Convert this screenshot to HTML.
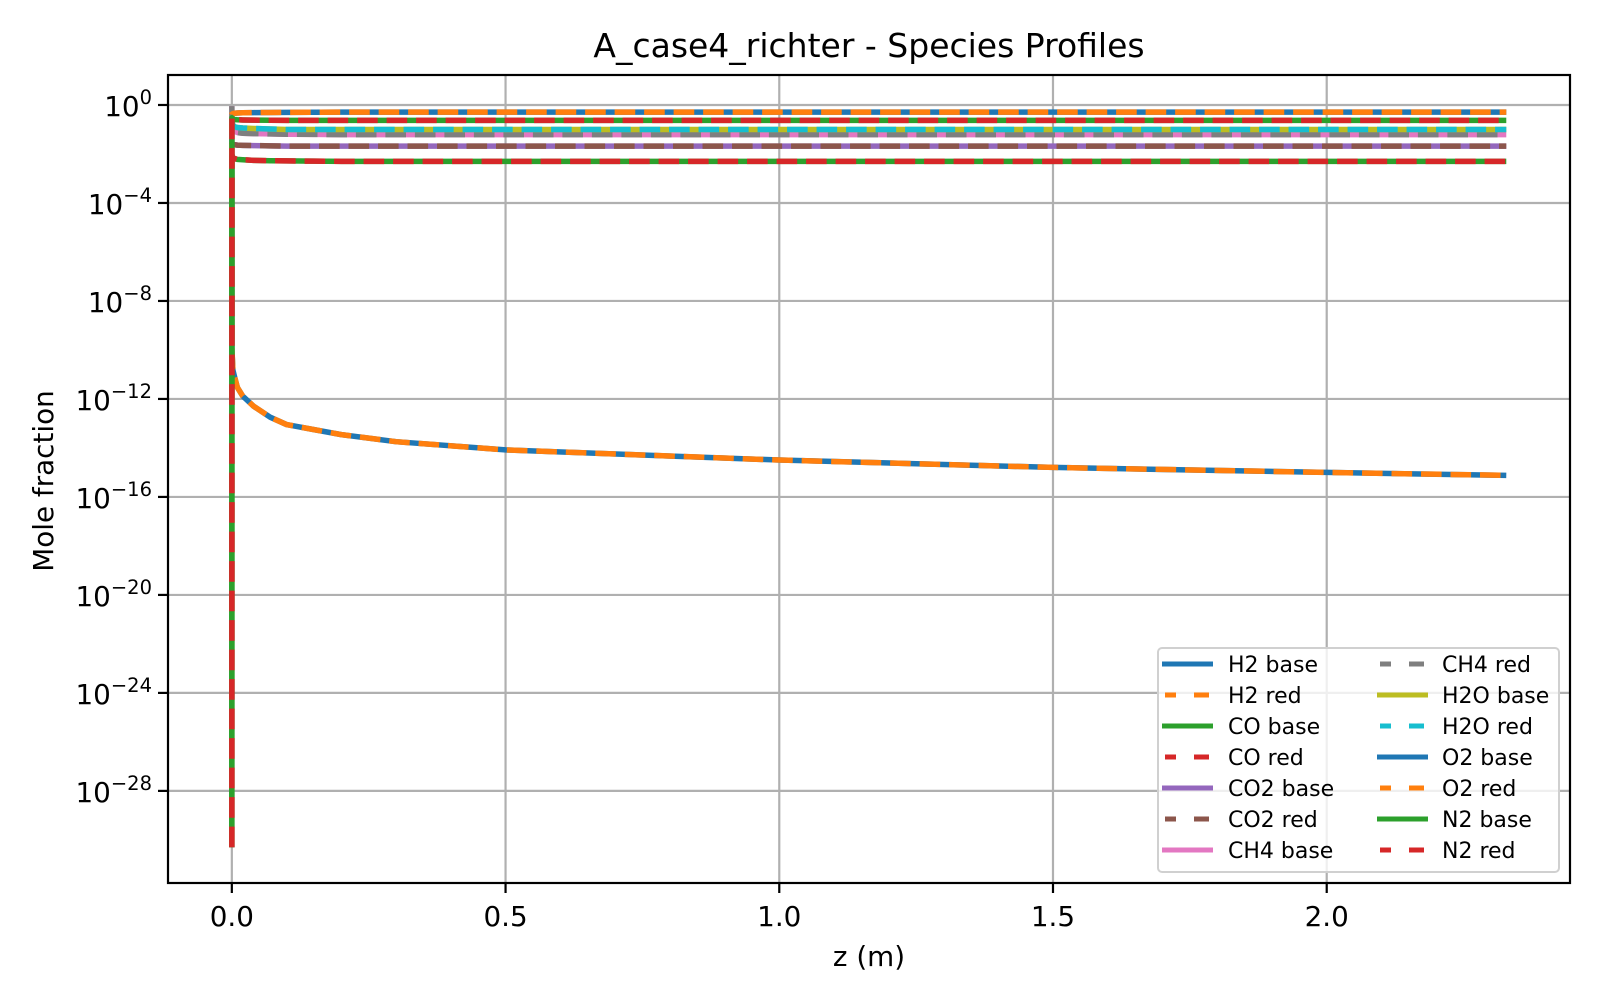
<!DOCTYPE html>
<html><head><meta charset="utf-8"><style>
html,body{margin:0;padding:0;background:#fff;}
svg text{font-family:"DejaVu Sans","Liberation Sans",sans-serif;fill:#000;}
</style></head><body>
<svg id="chart" width="1600" height="1000" viewBox="0 0 1600 1000" xmlns="http://www.w3.org/2000/svg">
<rect x="0" y="0" width="1600" height="1000" fill="#fff"/>
<g id="grid"></g>
<g id="series"></g>
<g id="axes"></g>
<text x="869" y="57" font-size="33" text-anchor="middle">A_case4_richter - Species Profiles</text>
<text x="869" y="966" font-size="27.8" text-anchor="middle">z (m)</text>
<text x="53" y="481" font-size="27.8" text-anchor="middle" transform="rotate(-90 53 481)">Mole fraction</text>
<g id="legend"></g>
</svg>
<script>
const zValues = [0, 0.0002, 0.002, 0.005, 0.01, 0.02, 0.04, 0.07, 0.1, 0.15, 0.2, 0.3, 0.5, 1.0, 1.5, 2.0, 2.328];
const h2Values = [0.5, 1e-10, 1.5e-11, 8e-12, 3e-12, 1.3e-12, 5e-13, 1.8e-13, 9e-14, 5.6e-14, 3.5e-14, 1.8e-14, 8.3e-15, 3.2e-15, 1.6e-15, 1e-15, 7.6e-16];
const coValues = [5e-31, 0.009, 0.007, 0.0065, 0.006, 0.0058, 0.0055, 0.0053, 0.0052, 0.0051, 0.005, 0.005, 0.005, 0.005, 0.005, 0.005, 0.005];
const co2Values = [0.03, 0.028, 0.025, 0.024, 0.023, 0.0225, 0.022, 0.0215, 0.021, 0.021, 0.021, 0.021, 0.021, 0.021, 0.021, 0.021, 0.021];
const ch4Values = [0.9, 0.3, 0.1, 0.085, 0.075, 0.07, 0.068, 0.066, 0.064, 0.063, 0.062, 0.062, 0.062, 0.062, 0.062, 0.062, 0.062];
const h2oValues = [0.25, 0.2, 0.15, 0.13, 0.12, 0.115, 0.11, 0.105, 0.1, 0.1, 0.1, 0.1, 0.1, 0.1, 0.1, 0.1, 0.1];
const o2Values = [0.4, 0.42, 0.45, 0.46, 0.47, 0.48, 0.49, 0.495, 0.5, 0.505, 0.51, 0.51, 0.51, 0.51, 0.51, 0.51, 0.51];
const n2Values = [5e-31, 0.3, 0.26, 0.255, 0.25, 0.245, 0.24, 0.237, 0.235, 0.235, 0.235, 0.235, 0.235, 0.235, 0.235, 0.235, 0.235];
const xTickValues = [0, 0.5, 1.0, 1.5, 2.0];
const xTickLabels = ["0.0", "0.5", "1.0", "1.5", "2.0"];
const yTickExponents = [0, -4, -8, -12, -16, -20, -24, -28];
const legendLabels = ["H2 base","H2 red","CO base","CO red","CO2 base","CO2 red","CH4 base","CH4 red","H2O base","H2O red","O2 base","O2 red","N2 base","N2 red"];

const NS = "http://www.w3.org/2000/svg";
const L = 168, R = 1570, T = 75, B = 883;
const X0 = -0.1166, X1 = 2.4444, Y0 = -31.76, Y1 = 1.224;
function xs(v){ return L + (v - X0) / (X1 - X0) * (R - L); }
function ys(v){ return B - (Math.log10(v) - Y0) / (Y1 - Y0) * (B - T); }
function yl(e){ return B - (e - Y0) / (Y1 - Y0) * (B - T); }
function mk(tag, attrs, parent){ const el = document.createElementNS(NS, tag); for (const k in attrs) el.setAttribute(k, attrs[k]); parent.appendChild(el); return el; }

const grid = document.getElementById('grid');
const axes = document.getElementById('axes');
xTickValues.forEach((v, i) => {
  const x = xs(v);
  const g = mk('line', {x1:x, x2:x, y1:T, y2:B, stroke:'#b0b0b0', 'stroke-width':2.2}, grid);
  
  
  const t = mk('line', {x1:x, x2:x, y1:B, y2:B+10, stroke:'#000', 'stroke-width':2.2}, axes);
  
  
  const lb = mk('text', {x:x, y:926, 'font-size':27.8, 'text-anchor':'middle'}, axes);
  lb.textContent = xTickLabels[i];
  
  
});
yTickExponents.forEach(e => {
  const y = yl(e);
  const g = mk('line', {x1:L, x2:R, y1:y, y2:y, stroke:'#b0b0b0', 'stroke-width':2.2}, grid);
  
  
  const t = mk('line', {x1:L-10, x2:L, y1:y, y2:y, stroke:'#000', 'stroke-width':2.2}, axes);
  
  
  const lb = mk('text', {x:L-16, y:y+11, 'font-size':27.8, 'text-anchor':'end'}, axes);
  
  
  const base = document.createElementNS(NS, 'tspan'); base.textContent = '10'; lb.appendChild(base);
  const sup = document.createElementNS(NS, 'tspan');
  sup.setAttribute('dy', -12); sup.setAttribute('font-size', 19.5);
  sup.textContent = e === 0 ? '0' : '\u2212' + Math.abs(e);
  lb.appendChild(sup);
});
const frame = mk('rect', {x:L, y:T, width:R-L, height:B-T, fill:'none', stroke:'#000', 'stroke-width':2.2}, axes);



const pairs = [
  ['h2', h2Values, '#1f77b4', '#ff7f0e'],
  ['co', coValues, '#2ca02c', '#d62728'],
  ['co2', co2Values, '#9467bd', '#8c564b'],
  ['ch4', ch4Values, '#e377c2', '#7f7f7f'],
  ['h2o', h2oValues, '#bcbd22', '#17becf'],
  ['o2', o2Values, '#1f77b4', '#ff7f0e'],
  ['n2', n2Values, '#2ca02c', '#d62728']
];
const sg = document.getElementById('series');
pairs.forEach(p => {
  const d = zValues.map((z, i) => (i ? 'L' : 'M') + xs(z).toFixed(2) + ',' + ys(p[1][i]).toFixed(2)).join(' ');
  const a = mk('path', {d:d, fill:'none', stroke:p[2], 'stroke-width':5.5, 'stroke-linejoin':'round'}, sg);
  
  
  const b = mk('path', {d:d, fill:'none', stroke:p[3], 'stroke-width':5.5, 'stroke-dasharray':'20.6 8.9'}, sg);
  
  
});

const lg = document.getElementById('legend');
const box = mk('rect', {x:1158, y:648, width:401, height:224, rx:4, fill:'#fff', 'fill-opacity':0.8, stroke:'#d0d0d0', 'stroke-width':2}, lg);


const legColors = ['#1f77b4','#ff7f0e','#2ca02c','#d62728','#9467bd','#8c564b','#e377c2','#7f7f7f','#bcbd22','#17becf','#1f77b4','#ff7f0e','#2ca02c','#d62728'];
legendLabels.forEach((lab, i) => {
  const col = i < 7 ? 0 : 1, row = i % 7;
  const lx = col ? 1377 : 1162, tx = col ? 1442 : 1228;
  const y = 664 + row * 31;
  const g = mk('g', {}, lg);
  
  
  if (i % 2 === 0) {
    mk('line', {x1:lx, x2:lx+51, y1:y, y2:y, stroke:legColors[i], 'stroke-width':5}, g);
  } else {
    mk('line', {x1:lx+3, x2:lx+14, y1:y, y2:y, stroke:legColors[i], 'stroke-width':5}, g);
    mk('line', {x1:lx+32, x2:lx+47, y1:y, y2:y, stroke:legColors[i], 'stroke-width':5}, g);
  }
  const t = mk('text', {x:tx, y:y+8, 'font-size':22}, g);
  t.textContent = lab;
});
</script>
</body></html>
